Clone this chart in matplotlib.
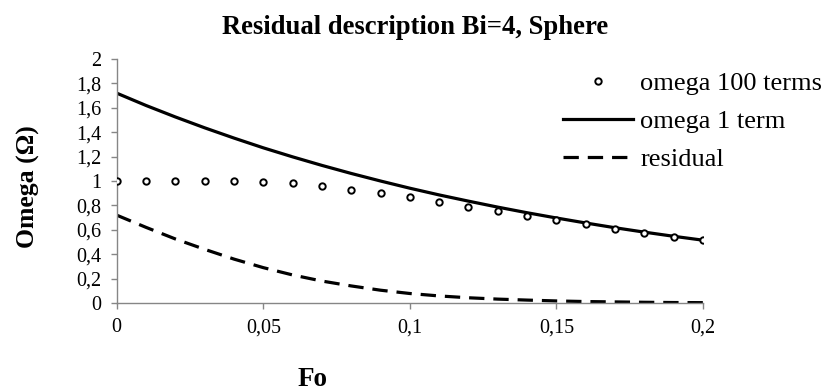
import matplotlib
matplotlib.use("Agg")
import matplotlib.pyplot as plt
from matplotlib.ticker import FuncFormatter

fo = [0.00, 0.01, 0.02, 0.03, 0.04, 0.05, 0.06, 0.07, 0.08, 0.09, 0.10,
      0.11, 0.12, 0.13, 0.14, 0.15, 0.16, 0.17, 0.18, 0.19, 0.20]
omega_100 = [1.00, 1.00, 1.00, 1.00, 1.00, 0.995, 0.98, 0.955, 0.93, 0.90, 0.865,
             0.828, 0.79, 0.753, 0.716, 0.68, 0.645, 0.61, 0.577, 0.545, 0.513]
omega_1 = [1.72, 1.619, 1.525, 1.436, 1.352, 1.272, 1.198, 1.128, 1.062, 1.00, 0.941,
           0.886, 0.835, 0.786, 0.740, 0.697, 0.656, 0.617, 0.581, 0.547, 0.515]
residual = [0.72, 0.62, 0.525, 0.44, 0.36, 0.29, 0.23, 0.18, 0.14, 0.105, 0.078,
            0.058, 0.043, 0.032, 0.024, 0.017, 0.012, 0.009, 0.006, 0.004, 0.003]

title = "Residual description Bi=4, Sphere"
xlabel = "Fo"
ylabel = "Omega (\u03a9)"
labels = ["omega 100 terms", "omega 1 term", "residual"]
xticks = [0, 0.05, 0.1, 0.15, 0.2]
yticks = [0, 0.2, 0.4, 0.6, 0.8, 1.0, 1.2, 1.4, 1.6, 1.8, 2.0]

plt.rcParams['font.family'] = ['Liberation Serif', 'DejaVu Serif']

fig = plt.figure(figsize=(8.25, 3.92), dpi=100)
ax = fig.add_axes([0.1415, 0.227, 0.7105, 0.6225])

ax.plot(fo, omega_100, linestyle='none', marker='o', markersize=4.6,
        markerfacecolor='white', markeredgecolor='black', markeredgewidth=1.4,
        label=labels[0], zorder=3)
ax.plot(fo, omega_1, color='black', linewidth=2.3, label=labels[1], zorder=2)
ax.plot(fo, residual, color='black', linewidth=2.3, linestyle=(0, (4.8, 2.8)),
        label=labels[2], zorder=2)

ax.set_xlim(0, 0.2)
ax.set_ylim(0, 2)
ax.set_xticks(xticks)
ax.set_yticks(yticks)

def fmt(v, pos):
    s = ('%.2f' % v).rstrip('0').rstrip('.')
    return s.replace('.', ',')

ax.xaxis.set_major_formatter(FuncFormatter(fmt))
ax.yaxis.set_major_formatter(FuncFormatter(fmt))

for side in ['top', 'right']:
    ax.spines[side].set_visible(False)
for side in ['left', 'bottom']:
    ax.spines[side].set_color('#868686')
    ax.spines[side].set_linewidth(1.0)

ax.tick_params(axis='both', colors='#868686', labelcolor='black', labelsize=14.5,
               length=4, width=1.0, direction='out')
ax.tick_params(axis='x', pad=7)
ax.tick_params(axis='y', pad=7)

fig.text(0.503, 1 - 34 / 392, title, ha='center', va='baseline', fontsize=19.2,
         fontweight='bold')
fig.text(0.379, 0.015, xlabel, ha='center', va='baseline', fontsize=19.5,
         fontweight='bold')
fig.text(0.034, 0.524, ylabel, ha='center', va='center', rotation=90, fontsize=18.5,
         fontweight='bold')

leg = ax.legend(loc='upper left', bbox_to_anchor=(563 / 825, 1 - 72 / 392),
                bbox_transform=fig.transFigure, frameon=False, fontsize=19,
                borderpad=0, borderaxespad=0, handlelength=2.65, handletextpad=0.27,
                labelspacing=0.55)

fig.savefig("out.png", dpi=100)
